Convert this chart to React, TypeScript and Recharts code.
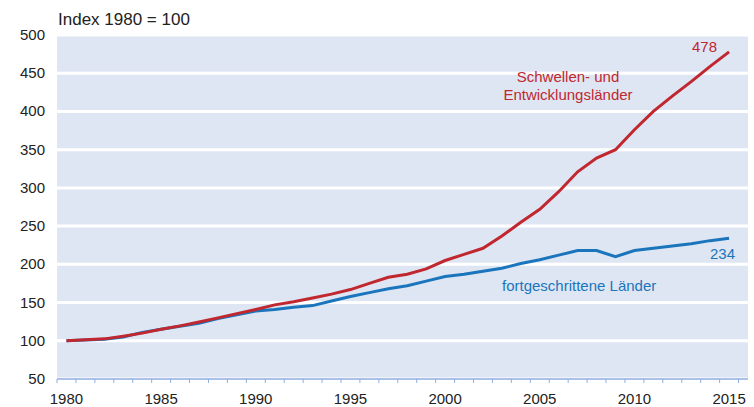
import React from 'react';
import { LineChart, Line, XAxis, YAxis, CartesianGrid } from 'recharts';

const years = [1980,1981,1982,1983,1984,1985,1986,1987,1988,1989,1990,1991,1992,1993,1994,1995,1996,1997,1998,1999,2000,2001,2002,2003,2004,2005,2006,2007,2008,2009,2010,2011,2012,2013,2014,2015];
const emerging = [100,101.5,102.5,106,110,115,119.5,124.5,130,135.5,141,147,151,156,161,167,175,183,187,194,205,213,221,237,255,272,295,321,339,350,376,400,420,439,459,478];
const advanced = [100,101,102,105,111,115,119,123,129,134,139,141,144,146,152,158,163,168,172,178,184,187,191,195,201,206,212,218,218,210,218,221,224,227,231,234];
const yTicks = [50,100,150,200,250,300,350,400,450,500];
const xLabelYears = [1980,1985,1990,1995,2000,2005,2010,2015];

const data = years.map((y, i) => ({ year: y, emerging: emerging[i], advanced: advanced[i] }));
const halfTicks = [...years.map((y) => y - 0.5), 2015.5];
const allTicks = [...halfTicks, ...xLabelYears].sort((a, b) => a - b);

const RED = '#c0272f';
const BLUE = '#1a75bc';
const FONT = '"Liberation Sans", Arial, sans-serif';

const XTick = (props: any) => {
  const { x, y, payload } = props;
  const v = payload.value;
  if (!Number.isInteger(v)) {
    return <line x1={x} x2={x} y1={y} y2={y + 4} stroke="#8eaee0" strokeWidth={1} />;
  }
  if (xLabelYears.includes(v)) {
    return (
      <text x={x} y={y + 25} textAnchor="middle" fontSize={15} fill="#222" fontFamily={FONT}>
        {v}
      </text>
    );
  }
  return <g />;
};

const YTick = (props: any) => {
  const { y, payload } = props;
  return (
    <text x={45} y={y + 5} textAnchor="end" fontSize={15} fill="#222" fontFamily={FONT}>
      {payload.value}
    </text>
  );
};

export default function App() {
  return (
    <div style={{ position: 'absolute', left: 0, top: 0, width: 754, height: 407, background: '#fff' }}>
      <LineChart width={754} height={407} data={data} margin={{ top: 35, right: 6, left: 0, bottom: 0 }}>
        <CartesianGrid vertical={false} stroke="#ffffff" strokeWidth={3} fill="#dfe6f3" />
        <XAxis
          dataKey="year"
          type="number"
          domain={[1979.5, 2016]}
          ticks={allTicks}
          interval={0}
          tick={<XTick />}
          tickLine={false}
          tickSize={0}
          tickMargin={0}
          axisLine={{ stroke: '#8eaee0', strokeWidth: 1.5 }}
          height={28}
        />
        <YAxis
          domain={[50, 500]}
          ticks={yTicks}
          interval={0}
          tick={<YTick />}
          tickLine={false}
          axisLine={false}
          width={57}
        />
        <Line type="linear" dataKey="advanced" stroke={BLUE} strokeWidth={3} dot={false} isAnimationActive={false} />
        <Line type="linear" dataKey="emerging" stroke={RED} strokeWidth={3} dot={false} isAnimationActive={false} />
      </LineChart>
      <svg width={754} height={407} style={{ position: 'absolute', left: 0, top: 0, pointerEvents: 'none' }}>
        <text x={58} y={25} fontSize={17} fill="#222" fontFamily={FONT}>Index 1980 = 100</text>
        <text x={568} y={81.5} fontSize={15} fill={RED} textAnchor="middle" fontFamily={FONT}>Schwellen- und</text>
        <text x={568} y={99.5} fontSize={15} fill={RED} textAnchor="middle" fontFamily={FONT}>Entwicklungsländer</text>
        <text x={717} y={52} fontSize={15} fill={RED} textAnchor="end" fontFamily={FONT}>478</text>
        <text x={735} y={259} fontSize={15} fill={BLUE} textAnchor="end" fontFamily={FONT}>234</text>
        <text x={502} y={291} fontSize={15} fill={BLUE} fontFamily={FONT}>fortgeschrittene Länder</text>
      </svg>
    </div>
  );
}
